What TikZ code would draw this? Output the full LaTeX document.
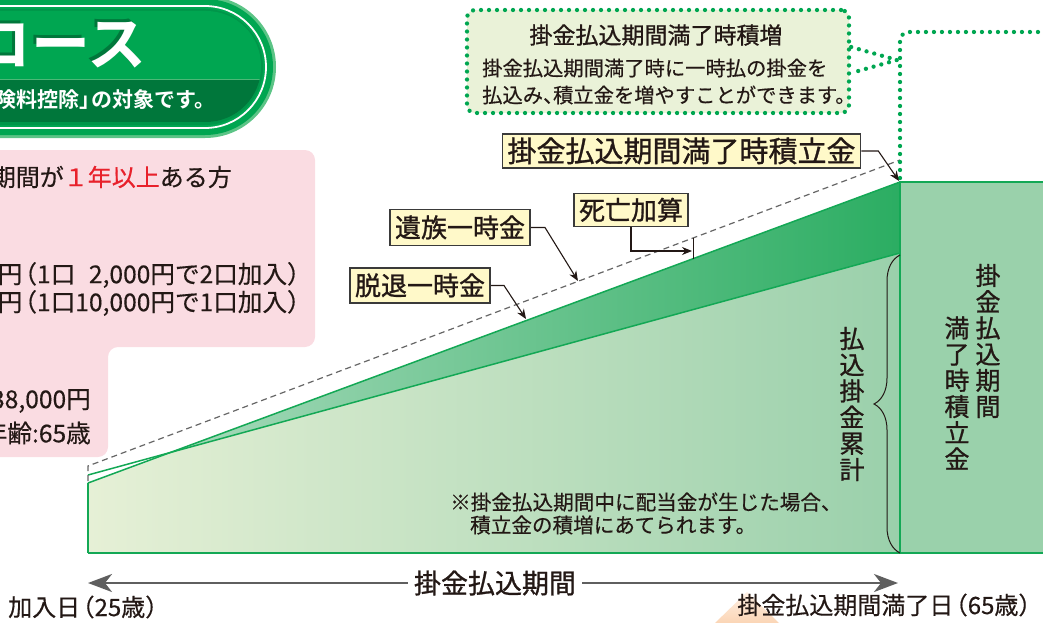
\documentclass[tikz,border=0pt]{standalone}
\usepackage{fontspec}
\setmainfont{Noto Sans CJK JP}[FakeBold=0.4]
\newfontfamily\jpmed[FakeBold=1.0]{Noto Sans CJK JP}
\newfontfamily\jpbold{Noto Sans CJK JP}[BoldFont={* Bold}]
\usetikzlibrary{arrows.meta,decorations.pathreplacing}
\definecolor{bgreen}{HTML}{00A651}
\definecolor{dgreen}{HTML}{00773B}
\definecolor{rimgreen}{HTML}{5CC486}
\definecolor{ringgreen}{HTML}{00964A}
\definecolor{bandline}{HTML}{4DB877}
\definecolor{pinkbg}{HTML}{FADCE2}
\definecolor{txt}{HTML}{231815}
\definecolor{lblfill}{HTML}{FFF9C9}
\definecolor{lblborder}{HTML}{3A3A3A}
\definecolor{linegreen}{HTML}{13A855}
\definecolor{lightL}{HTML}{E6F0D6}
\definecolor{lightR}{HTML}{9AD0AB}
\definecolor{darkL}{HTML}{A8DABB}
\definecolor{darkR}{HTML}{2BAD62}
\definecolor{colgreen}{HTML}{9AD1AB}
\definecolor{callfill}{HTML}{EAF2D8}
\definecolor{arrowgray}{HTML}{5F5F5F}
\definecolor{dashgray}{HTML}{666666}
\definecolor{redtxt}{HTML}{E8212B}
\definecolor{oraTop}{HTML}{FEF0E4}
\definecolor{oraBot}{HTML}{FBD5B5}
\newcommand\fsz[1]{\fontsize{#1}{#1}\selectfont}
\newcommand\lpar{\kern-0.4em（}
\newcommand\rpar{）\kern-0.4em}
\newcommand\rbr{」\kern-0.4em}
\begin{document}
\begin{tikzpicture}[x=1pt,y=-1pt,
  every node/.style={text=txt, inner sep=0pt},
  lbl/.style={draw=lblborder, line width=1.6pt, fill=lblfill, font=\jpmed\fsz{26}, inner xsep=5pt, inner ysep=5.5pt, text height=22.1pt, text depth=2.6pt},
  lblarrow/.style={draw=txt, line width=1.1pt, -{Stealth[length=10pt,width=8pt]}},
  gline/.style={draw=linegreen, line width=1.5pt},
  dotline/.style={draw=bgreen, line width=4.3pt, dash pattern=on 0pt off 8pt, line cap=round},
  vtext/.style={align=center, font=\jpmed\fontsize{25}{26.2}\selectfont},
  ptext/.style={font=\fsz{24.6}, anchor=east},
  barrow/.style={draw=arrowgray, line width=2.5pt, -{Stealth[length=24pt,width=18pt,inset=7pt]}},
]
\path[use as bounding box] (0,0) rectangle (1043,623);
\clip (0,0) rectangle (1043,623);

% ---------- pink box ----------
\fill[pinkbg, rounded corners=10pt] (-20,150) -- (315,150) -- (315,347) -- (108,347) -- (108,457) -- (-20,457) -- cycle;
\node[ptext, font=\fsz{24}] (p1) at (232,177) {期間が{\color{redtxt}１年以上}ある方};
\node[ptext] (p2) at (302,275) {円\lpar 1口\phantom{1}2,000円で2口加入\rpar};
\node[ptext] (p3) at (302,303) {円\lpar 1口10,000円で1口加入\rpar};
\node[ptext] (p4) at (91,401) {38,000円};
\node[ptext] (p5) at (91,433) {年齢:65歳};

% ---------- banner ----------
\fill[rimgreen, rounded corners=71pt] (-150,-4) rectangle (276,138);
\fill[bgreen, rounded corners=68pt] (-150,-1) rectangle (273,135);
\draw[white, line width=1.8pt, rounded corners=61pt] (-150,6) rectangle (266,128);
\fill[ringgreen, rounded corners=58pt] (-150,9) rectangle (263,125);
\fill[bgreen, rounded corners=55pt] (-150,11) rectangle (261,122);
\begin{scope}
  \clip[rounded corners=55pt] (-150,11) rectangle (261,122);
  \fill[dgreen] (-150,80) rectangle (300,130);
  \draw[bandline, line width=1pt] (-150,80) -- (300,80);
\end{scope}
\node[anchor=east, text=dgreen, font=\jpbold\bfseries\fsz{59}] (titleS) at (144,42) {コース};
\node[anchor=east, text=white, font=\jpbold\bfseries\fsz{59}] (title) at (147,45) {コース};
\node[anchor=east, text=white, font=\jpbold\bfseries\fsz{21}] (sub) at (216,100) {保険料控除\rbr の対象です。};

% ---------- callout ----------
\node[dotline, fill=callfill, rounded corners=8pt, minimum width=382pt, minimum height=103pt] (call) at (658,61.5) {};
\node[font=\jpmed\fsz{23}] (ct1) at (656,35) {掛金払込期間満了時積増};
\node[anchor=west, font=\fsz{20.3}] (ct2) at (482,68) {掛金払込期間満了時に一時払の掛金を};
\node[anchor=west, font=\fsz{20.3}] (ct3) at (482,95) {払込み\makebox[10pt][l]{、}積立金を増やすことができます。};

% ---------- graph ----------
\coordinate (A0) at (88,475);
\coordinate (A1) at (900,253);
\coordinate (B0) at (88,483);
\coordinate (B1) at (900,182);
\coordinate (X) at (170.2,452.5);
\coordinate (D0) at (88,466);
\coordinate (D1) at (900,160);
\shade[left color=lightL, right color=lightR] (88,553) -- (B0) -- (X) -- (A1) -- (900,553) -- cycle;
\shade[left color=darkL, right color=darkR] (X) -- (B1) -- (A1) -- cycle;
\fill[colgreen] (900,182) rectangle (1060,553);
\draw[gline] (A0) -- (A1);
\draw[gline] (B0) -- (B1);
\draw[gline] (88,553) -- (B0);
\draw[gline] (88,553) -- (1060,553);
\draw[gline] (1060,182) -- (B1) -- (900,553);
\draw[dashgray, line width=1.2pt, dash pattern=on 6pt off 4pt] (88,481) -- (D0) -- (D1);

% big dotted rectangle + pointer
\draw[dotline, rounded corners=9pt] (900,178) -- (900,32) -- (1060,32);
\coordinate (ptip) at (897,60);
\draw[dotline] (call.east |- 0,47) -- (ptip) -- (call.east |- 0,73);

% brace
\draw[txt, line width=1pt, decorate, decoration={brace, amplitude=26pt}] (900,553) -- (900,255);

% vertical texts
\node[vtext] (v1) at (988,341) {掛\\金\\払\\込\\期\\間};
\node[vtext] (v2) at (957,393) {満\\了\\時\\積\\立\\金};
\node[vtext] (v3) at (852,404) {払\\込\\掛\\金\\累\\計};

% note
\node[anchor=west, font=\fsz{20.6}] (note1) at (450,502) {※掛金払込期間中に配当金が生じた場合、};
\node[anchor=west, font=\fsz{20.6}] (note2) at (470,525) {積立金の積増にあてられます。};

% ---------- labels ----------
\node[lbl, font=\jpmed\fsz{29}, inner ysep=3pt, text height=24.6pt, text depth=2.9pt] (mat) at (681.5,151) {掛金払込期間満了時積立金};
\draw[lblarrow] (mat.east) -- ++(17,0) -- (899,181);

\node[lbl] (izoku) at (460,227.5) {遺族一時金};
\coordinate (izokuTip) at (578,281);
\draw[lblarrow] (izoku.east) -- (545,227.5) -- (izokuTip);

\node[lbl, inner ysep=4pt] (shibou) at (631,210) {死亡加算};
\coordinate (tickTop) at (693,238);
\coordinate (tickBot) at (693,258.5);
\coordinate (shibouTip) at (692,251);
\draw[txt, line width=1pt] (tickTop) -- (tickBot);
\draw[lblarrow] (shibou.south) |- (shibouTip);

\node[lbl, inner ysep=5pt] (dattai) at (420,285.5) {脱退一時金};
\coordinate (dattaiTip) at (526,319);
\draw[lblarrow] (dattai.east) -- (504,285.5) -- (dattaiTip);

% ---------- bottom axis ----------
\shade[top color=oraTop, bottom color=oraBot] (747,592) -- (779,623) -- (715,623) -- cycle;
\coordinate (pL) at (88,583);
\coordinate (pR) at (898,583);
\node[font=\jpmed\fsz{27}, inner xsep=6pt] (period) at (495,583) {掛金払込期間};
\draw[barrow] (period.west) -- (pL);
\draw[barrow] (period.east) -- (pR);
\node[anchor=west, font=\fsz{24}] (start) at (8,607) {加入日\lpar 25歳\rpar};
\node[anchor=east, font=\fsz{24}] (end) at (1033,605) {掛金払込期間満了日\lpar 65歳\rpar};
\end{tikzpicture}
\end{document}
